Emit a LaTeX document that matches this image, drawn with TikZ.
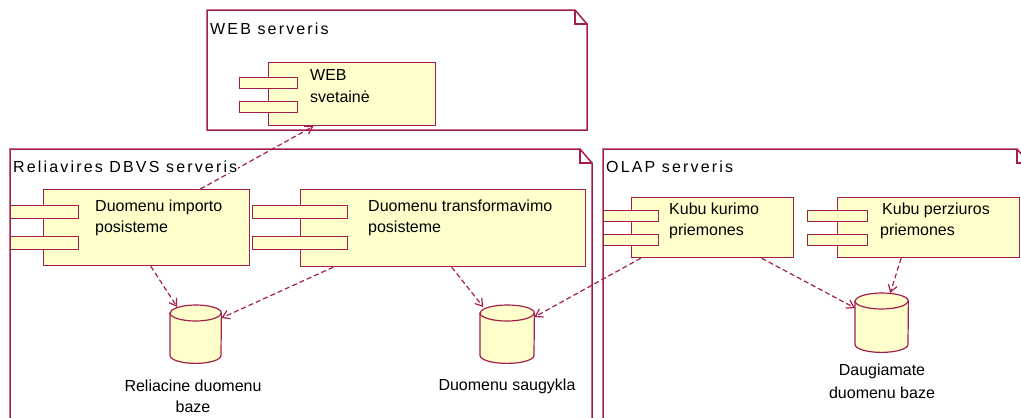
\documentclass[tikz,border=0pt]{standalone}
\usepackage{fontspec}
\setmainfont{Liberation Sans}
\newfontfamily\titlefont[LetterSpace=13.5]{Liberation Sans}
\usetikzlibrary{calc,arrows.meta}

\definecolor{umlline}{RGB}{165,30,75}
\definecolor{umlfill}{RGB}{255,255,204}

% cylinder drawn over a named rectangular node: #1 node name, #2 x radius
\newcommand{\dbcyl}[2]{%
  \draw[dbbody] ([yshift=-8pt]#1.north west) -- ([yshift=8pt]#1.south west)
    arc[start angle=180,end angle=360,x radius=#2,y radius=8pt]
    -- ([yshift=-8pt]#1.north east)
    arc[start angle=0,end angle=180,x radius=#2,y radius=8pt] -- cycle;
  \draw[dbbody,fill=none] ([yshift=-8pt]#1.north west)
    arc[start angle=180,end angle=360,x radius=#2,y radius=8pt];
}

\tikzset{
  frameline/.style={draw=umlline,line width=1.5pt},
  compbody/.style={draw=umlline,fill=umlfill,line width=1.2pt,inner sep=0pt,anchor=north west},
  comptab/.style={draw=umlline,fill=umlfill,line width=1.2pt,inner sep=0pt,anchor=north west},
  dbbody/.style={draw=umlline,fill=umlfill,line width=1.2pt},
  dbbox/.style={inner sep=0pt,anchor=north west},
  lbl/.style={inner sep=0pt,anchor=base west,font=\fontsize{16}{20}\selectfont},
  ttl/.style={inner sep=1pt,anchor=base west,fill=white,font=\titlefont\fontsize{16}{20}\selectfont},
  dblbl/.style={inner sep=0pt,anchor=base,font=\fontsize{16}{20}\selectfont},
  dep/.style={draw=umlline,line width=1.2pt,dash pattern=on 5pt off 3pt,
    -{Straight Barb[length=7pt,width=9pt]}}
}

\begin{document}
\begin{tikzpicture}[x=1pt,y=-1pt]
\clip (0,0) rectangle (1021,418);
\fill[white] (0,0) rectangle (1021,418);

% ---- deployment frames with folded corners ----
\draw[frameline] (207,10) -- (575,10) -- (587,24) -- (587,130) -- (207,130) -- cycle;
\draw[frameline] (575,10) -- (575,24) -- (587,24);
\draw[frameline] (10,149) -- (580,149) -- (592,163) -- (592,440) -- (10,440) -- cycle;
\draw[frameline] (580,149) -- (580,163) -- (592,163);
\draw[frameline] (603,149) -- (1017,149) -- (1029,163) -- (1029,440) -- (603,440) -- cycle;
\draw[frameline] (1017,149) -- (1017,163) -- (1029,163);

% ---- components ----
\node[compbody,minimum width=167pt,minimum height=63pt] (webc) at (268,62) {};
\node[comptab,minimum width=58pt,minimum height=10.5pt] (webt1) at (239,77) {};
\node[comptab,minimum width=58pt,minimum height=10.5pt] (webt2) at (239,101) {};
\node[lbl] (webl1) at (310,80) {WEB};
\node[lbl] (webl2) at (310,102) {svetainė};

\node[compbody,minimum width=206pt,minimum height=76pt] (imp) at (43,189) {};
\node[comptab,minimum width=68pt,minimum height=13pt] (impt1) at (10,205) {};
\node[comptab,minimum width=68pt,minimum height=13pt] (impt2) at (10,236) {};
\node[lbl] (impl1) at (95,211) {Duomenu importo};
\node[lbl] (impl2) at (95,232) {posisteme};

\node[compbody,minimum width=285pt,minimum height=77pt] (trf) at (300,189) {};
\node[comptab,minimum width=95pt,minimum height=13pt] (trft1) at (252,205) {};
\node[comptab,minimum width=95pt,minimum height=13pt] (trft2) at (252,236) {};
\node[lbl] (trfl1) at (368,211) {Duomenu transformavimo};
\node[lbl] (trfl2) at (368,232) {posisteme};

\node[compbody,minimum width=162pt,minimum height=60pt] (kk) at (631,197) {};
\node[comptab,minimum width=55pt,minimum height=11pt] (kkt1) at (603,210) {};
\node[comptab,minimum width=55pt,minimum height=11pt] (kkt2) at (603,234) {};
\node[lbl] (kkl1) at (669,214) {Kubu kurimo};
\node[lbl] (kkl2) at (669,235) {priemones};

\node[compbody,minimum width=182pt,minimum height=60pt] (kp) at (837,197) {};
\node[comptab,minimum width=60pt,minimum height=11pt] (kpt1) at (807,210) {};
\node[comptab,minimum width=60pt,minimum height=11pt] (kpt2) at (807,234) {};
\node[lbl] (kpl1) at (882,214) {Kubu perziuros};
\node[lbl] (kpl2) at (880,235) {priemones};

% ---- databases ----
\node[dbbox,minimum width=51pt,minimum height=58pt] (rdb) at (170,305) {};
\dbcyl{rdb}{25.5pt}
\node[dblbl] (rdbl1) at (193,391) {Reliacine duomenu};
\node[dblbl] (rdbl2) at (193,412) {baze};

\node[dbbox,minimum width=54pt,minimum height=58pt] (sdb) at (480,305) {};
\dbcyl{sdb}{27pt}
\node[dblbl] (sdbl) at (507,390) {Duomenu saugykla};

\node[dbbox,minimum width=53pt,minimum height=59pt] (ddb) at (855,293) {};
\dbcyl{ddb}{26.5pt}
\node[dblbl] (ddbl1) at (882,375) {Daugiamate};
\node[dblbl] (ddbl2) at (882,398) {duomenu baze};

% ---- dependencies ----
\draw[dep] ($(imp.north west)!0.76!(imp.north east)$) -- ($(webc.south west)!0.27!(webc.south east)$);
\draw[dep] ($(imp.south west)!0.52!(imp.south east)$) -- ([yshift=-2pt]$(rdb.north west)!0.14!(rdb.north east)$);
\draw[dep] ($(trf.south west)!0.116!(trf.south east)$) -- ([yshift=-13pt]rdb.north east);
\draw[dep] ($(trf.south west)!0.53!(trf.south east)$) -- ([yshift=-2pt]$(sdb.north west)!0.06!(sdb.north east)$);
\draw[dep] ($(kk.south west)!0.06!(kk.south east)$) -- ([yshift=-12pt]sdb.north east);
\draw[dep] ($(kk.south west)!0.80!(kk.south east)$) -- ([yshift=-15pt]ddb.north west);
\draw[dep] ($(kp.south west)!0.35!(kp.south east)$) -- ($(ddb.north west)!0.66!(ddb.north east)$);

% ---- frame titles, set over the connectors ----
\node[ttl] (tweb) at (209,34) {WEB serveris};
\node[ttl] (trel) at (12,172) {Reliavires DBVS serveris};
\node[ttl] (tolap) at (605,172) {OLAP serveris};
\end{tikzpicture}
\end{document}
